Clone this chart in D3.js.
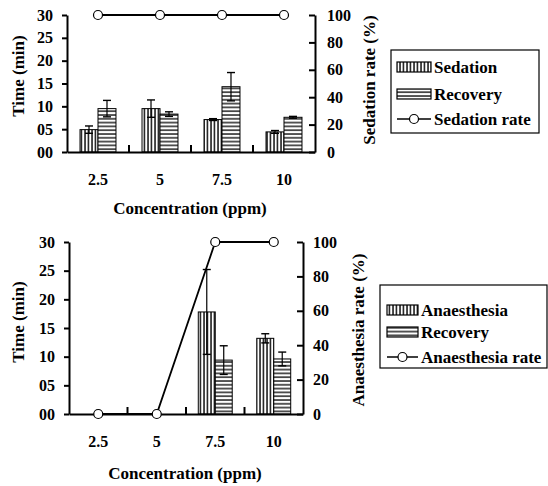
<!DOCTYPE html>
<html><head><meta charset="utf-8">
<script src="https://cdn.jsdelivr.net/npm/d3@7"></script>
<style>body{margin:0;background:#fff}svg{display:block}text{font-family:"Liberation Serif","Times New Roman",serif;font-weight:bold;fill:#000}</style>
</head><body><svg id="c" width="548" height="486"></svg>
<script>
const concentrations = ["2.5", "5", "7.5", "10"];
const sedationTime = [4.9, 9.5, 7.1, 4.4];
const sedationErr = [0.8, 1.9, 0.2, 0.3];
const recoveryTime1 = [9.5, 8.3, 14.3, 7.6];
const recoveryErr1 = [1.8, 0.5, 3.1, 0.2];
const sedationRate = [100, 100, 100, 100];
const anaesthesiaTime = [0, 0, 17.8, 13.2];
const anaesthesiaErr = [0, 0, 7.4, 0.8];
const recoveryTime2 = [0, 0, 9.4, 9.6];
const recoveryErr2 = [0, 0, 2.5, 1.2];
const anaesthesiaRate = [0, 0, 100, 100];
const timeTicks = [0, 5, 10, 15, 20, 25, 30];
const rateTicks = [0, 20, 40, 60, 80, 100];

const svg = d3.select("#c");
const defs = svg.append("defs");
const pv = defs.append("pattern").attr("id","vstripe").attr("patternUnits","userSpaceOnUse").attr("width",3.5).attr("height",4);
pv.append("rect").attr("width",3.5).attr("height",4).attr("fill","#fff");
pv.append("line").attr("x1",1).attr("x2",1).attr("y1",0).attr("y2",4).attr("stroke","#000").attr("stroke-width",1.4);
const ph = defs.append("pattern").attr("id","hstripe").attr("patternUnits","userSpaceOnUse").attr("width",4).attr("height",3.8);
ph.append("rect").attr("width",4).attr("height",3.8).attr("fill","#fff");
ph.append("line").attr("x1",0).attr("x2",4).attr("y1",1).attr("y2",1).attr("stroke","#000").attr("stroke-width",1.3);

function panel(cfg) {
  const g = svg.append("g");
  const x = d3.scaleBand().domain(concentrations).range([cfg.x0, cfg.x1]).padding(0);
  const y = d3.scaleLinear().domain([0, 30]).range([cfg.yb, cfg.yt]);
  const yr = d3.scaleLinear().domain([0, 100]).range([cfg.yb, cfg.yt]);
  const gw = x.bandwidth() * 0.58, bw = gw / 2;

  const series = [
    {vals: cfg.a, err: cfg.ae, fill: "url(#vstripe)", off: 0},
    {vals: cfg.b, err: cfg.be, fill: "url(#hstripe)", off: 1}
  ];
  series.forEach(s => {
    concentrations.forEach((c, i) => {
      if (s.vals[i] <= 0) return;
      const bx = x(c) + x.bandwidth() / 2 - gw / 2 + s.off * bw;
      g.append("rect").attr("x", bx).attr("y", y(s.vals[i])).attr("width", bw).attr("height", y(0) - y(s.vals[i]))
        .attr("fill", s.fill).attr("stroke", "#000").attr("stroke-width", 1);
      const cx = bx + bw / 2, e = s.err[i];
      if (e > 0) {
        g.append("line").attr("x1", cx).attr("x2", cx).attr("y1", y(s.vals[i] + e)).attr("y2", y(s.vals[i] - e)).attr("stroke", "#000").attr("stroke-width", 1.2);
        [s.vals[i] + e, s.vals[i] - e].forEach(v => g.append("line").attr("x1", cx - 4).attr("x2", cx + 4).attr("y1", y(v)).attr("y2", y(v)).attr("stroke", "#000").attr("stroke-width", 1.4));
      }
    });
  });

  // axes
  const la = g.append("g").attr("transform", `translate(${cfg.x0},0)`)
    .call(d3.axisLeft(y).tickValues(timeTicks).tickFormat(d3.format("02d")).tickSize(5).tickSizeOuter(0));
  const ra = g.append("g").attr("transform", `translate(${cfg.x1},0)`)
    .call(d3.axisRight(yr).tickValues(rateTicks).tickSize(-6).tickSizeOuter(0).tickPadding(cfg.rpad));
  const ba = g.append("g").attr("transform", `translate(0,${cfg.yb})`)
    .call(d3.axisBottom(x).tickSize(0).tickPadding(cfg.xpad));
  [la, ra, ba].forEach(a => {
    a.selectAll("path.domain").attr("stroke", "#000").attr("stroke-width", 2);
    a.selectAll(".tick line").attr("stroke", "#000").attr("stroke-width", 2);
    a.selectAll("text").style("font-family", "'Liberation Serif'").style("font-weight", "bold").style("font-size", "16px").attr("fill", "#000");
  });
  la.selectAll("text").attr("x", -14);
  // category separators
  concentrations.slice(1).forEach(c => {
    g.append("line").attr("x1", x(c)).attr("x2", x(c)).attr("y1", cfg.yb).attr("y2", cfg.yb - 7).attr("stroke", "#000").attr("stroke-width", 2);
  });

  // rate line
  const rate = cfg.rate;
  const line = d3.line().x((d, i) => x(concentrations[i]) + x.bandwidth() / 2).y(d => yr(d));
  g.append("path").attr("d", line(rate)).attr("fill", "none").attr("stroke", "#000").attr("stroke-width", 1.8);
  g.selectAll("circle.m").data(rate).enter().append("circle")
    .attr("cx", (d, i) => x(concentrations[i]) + x.bandwidth() / 2).attr("cy", d => yr(d)).attr("r", 4.5)
    .attr("fill", "#fff").attr("stroke", "#000").attr("stroke-width", 1.2);

  // titles
  g.append("text").attr("transform", `translate(${cfg.ltx},${cfg.lty}) rotate(-90)`).attr("text-anchor", "middle").attr("dy", "0.35em").style("font-size", "17px").text("Time (min)");
  g.append("text").attr("transform", `translate(${cfg.rtx},${cfg.rty}) rotate(-90)`).attr("text-anchor", "middle").attr("dy", "0.35em").style("font-size", "17px").text(cfg.rtitle);
  g.append("text").attr("x", cfg.xtx).attr("y", cfg.xty).attr("text-anchor", "middle").style("font-size", "17px").text("Concentration (ppm)");

  // legend
  const L = cfg.leg;
  g.append("rect").attr("x", L.x).attr("y", L.y).attr("width", L.w).attr("height", L.h).attr("fill", "#fff").attr("stroke", "#000").attr("stroke-width", 1.2);
  const items = [{t: cfg.names[0], f: "url(#vstripe)"}, {t: "Recovery", f: "url(#hstripe)"}, {t: cfg.names[1], f: null}];
  items.forEach((it, i) => {
    const cy = L.rows[i];
    if (it.f) {
      g.append("rect").attr("x", L.sx).attr("y", cy - 5).attr("width", L.sw).attr("height", 10).attr("fill", it.f).attr("stroke", "#000").attr("stroke-width", 1.2);
    } else {
      g.append("line").attr("x1", L.sx).attr("x2", L.sx + L.sw).attr("y1", cy).attr("y2", cy).attr("stroke", "#000").attr("stroke-width", 1.5);
      g.append("circle").attr("cx", L.sx + L.sw / 2).attr("cy", cy).attr("r", 4.5).attr("fill", "#fff").attr("stroke", "#000").attr("stroke-width", 1.2);
    }
    g.append("text").attr("x", L.sx + L.sw + 3).attr("y", cy).attr("dy", "0.35em").style("font-size", "17px").text(it.t);
  });
}

panel({x0: 67, x1: 315, yb: 152, yt: 15, a: sedationTime, ae: sedationErr, b: recoveryTime1, be: recoveryErr1, rate: sedationRate,
  rpad: 12, xpad: 22, ltx: 18, lty: 76, rtx: 369, rty: 80, rtitle: "Sedation rate (%)", xtx: 190, xty: 214,
  names: ["Sedation", "Sedation rate"],
  leg: {x: 391, y: 50, w: 148, h: 83, sx: 397, sw: 34, rows: [67, 94, 119]}});
panel({x0: 69, x1: 303, yb: 414, yt: 242, a: anaesthesiaTime, ae: anaesthesiaErr, b: recoveryTime2, be: recoveryErr2, rate: anaesthesiaRate,
  rpad: 10, xpad: 22, ltx: 18, lty: 322, rtx: 358, rty: 330, rtitle: "Anaesthesia rate (%)", xtx: 185, xty: 479,
  names: ["Anaesthesia", "Anaesthesia rate"],
  leg: {x: 380, y: 285, w: 167, h: 83, sx: 387, sw: 31, rows: [310, 332, 357]}});
</script></body></html>
